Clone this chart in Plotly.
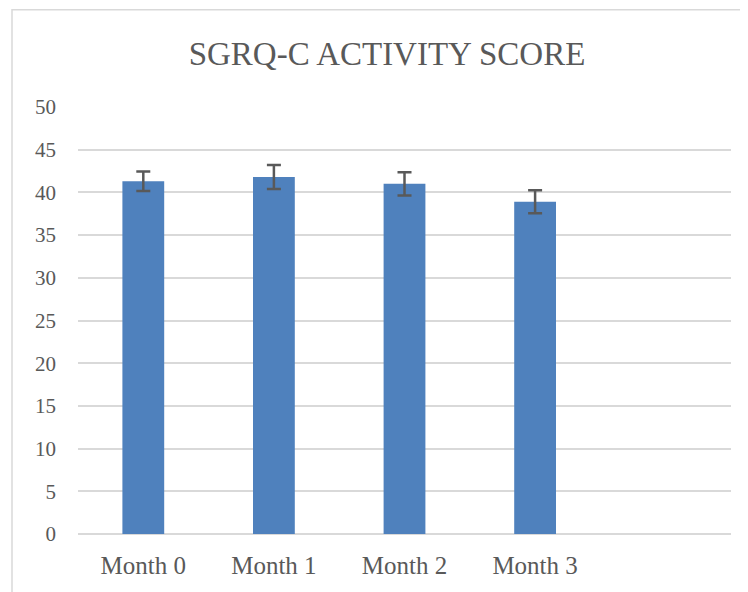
import plotly.graph_objects as go

categories = ["Month 0", "Month 1", "Month 2", "Month 3"]
scores = [41.3, 41.8, 41.0, 38.9]
errors = [1.15, 1.4, 1.35, 1.35]
y_ticks = [0, 5, 10, 15, 20, 25, 30, 35, 40, 45, 50]

# page body has an 8px margin, so the figure is drawn from (8, 8)
OFF = 8
W, H = 748 - OFF, 592 - OFF
L, R, T, B = 78 - OFF, 17, 106.5 - OFF, 57.5
pw, ph = W - L - R, H - T - B

fig = go.Figure()
fig.add_trace(go.Bar(
    x=categories, y=scores, width=0.32,
    marker=dict(color="#4F81BD", line=dict(width=0)),
    error_y=dict(type="data", array=errors, visible=True,
                 color="#595959", thickness=2.5, width=7),
))

serif = "Liberation Serif, Times New Roman, serif"

fig.update_layout(
    width=W, height=H,
    margin=dict(l=L, r=R, t=T, b=B),
    paper_bgcolor="white", plot_bgcolor="white",
    showlegend=False,
    title=dict(text="SGRQ-C ACTIVITY SCORE", x=(387 - OFF) / W, xanchor="center",
               y=1 - (53 - OFF) / H, yanchor="middle",
               font=dict(family=serif, size=33, color="#595959")),
    xaxis=dict(type="category", range=[-0.5, 4.5], showgrid=False,
               showline=False, zeroline=False, ticks="",
               tickfont=dict(family=serif, size=25, color="#595959"),
               ticklabelstandoff=14),
    yaxis=dict(range=[0, 50], tickvals=y_ticks, showgrid=True,
               gridcolor="#D9D9D9", gridwidth=1.5,
               zeroline=True, zerolinecolor="#D9D9D9", zerolinewidth=2,
               showline=False, ticks="",
               tickfont=dict(family=serif, size=21, color="#595959"),
               ticklabelstandoff=21),
    shapes=[dict(type="rect", xref="paper", yref="paper",
                 x0=(12 - 78) / pw, x1=(770 - 78) / pw,
                 y0=(534.5 - 610) / ph, y1=(534.5 - 9) / ph,
                 line=dict(color="#D9D9D9", width=1.5), fillcolor="rgba(0,0,0,0)",
                 layer="below")],
)

fig.write_html("out.html")
